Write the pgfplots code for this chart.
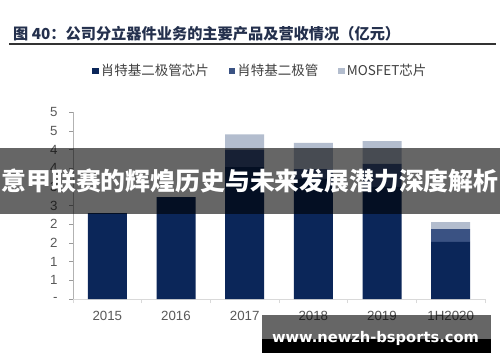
\documentclass[border=0pt]{standalone}
\usepackage{fontspec}
\setmainfont{Liberation Sans}
\newfontfamily\cjk{Noto Sans CJK SC}
\newfontfamily\dejab{DejaVu Sans}
\usepackage{graphicx}
\usepackage{pgfplots}
\pgfplotsset{compat=1.18}
\definecolor{sA}{HTML}{0B2659}
\definecolor{sB}{HTML}{3A5283}
\definecolor{sC}{HTML}{B3BDCE}
\definecolor{tick}{HTML}{595959}
\definecolor{ttl}{HTML}{24304D}
\begin{document}
\begin{tikzpicture}[x=1pt,y=1pt]
\fill[white] (0,0) rectangle (500,362);
\path[use as bounding box] (0,0) rectangle (500,362);
% title
\node[anchor=west, inner sep=0, text=ttl] at (13,328) {\resizebox{387pt}{!}{\cjk\bfseries 图 40：公司分立器件业务的主要产品及营收情况（亿元）}};
\draw[line width=1.2pt, color=black!80] (9,318) -- (496,318);
\begin{axis}[
  at={(73pt,63pt)}, anchor=south west,
  scale only axis, width=412pt, height=186.7pt,
  xmin=-0.5, xmax=5.5, ymin=0, ymax=5,
  ybar stacked, bar width=39pt,
  axis x line*=bottom, axis y line*=left,
  x axis line style={draw=black!15, line width=0.8pt},
  y axis line style={draw=black!30, line width=0.8pt},
  xtick={0,1,2,3,4,5},
  xticklabels={2015,2016,2017,2018,2019,1H2020},
  major x tick style={draw=none},
  minor xtick={-0.5,0.5,1.5,2.5,3.5,4.5,5.5},
  minor x tick style={draw=black!15, line width=0.6pt},
  minor tick length=4pt,
  ytick={0,0.5,1,1.5,2,2.5,3,3.5,4,4.5,5},
  yticklabels={-,1,1,2,2,3,3,4,4,5,5},
  y tick style={draw=black!40, line width=0.6pt},
  tick align=outside, major tick length=4pt,
  tick label style={font=\fontsize{13.3}{15}\selectfont, text=tick},
  yticklabel style={xshift=-8pt},
  xticklabel style={yshift=-5pt},
  /pgf/number format/assume math mode=true,
  legend columns=3,
  legend style={at={(0.455,1.221)}, anchor=center, draw=none, fill=none,
    font=\cjk\fontsize{13.5}{15}\selectfont, text=black!75,
    /tikz/every even column/.append style={column sep=18pt}},
  legend image code/.code={\fill[#1] (0pt,-3pt) rectangle (6.5pt,3.5pt);},
  clip=false,
]
\addplot[fill=sA, draw=none] coordinates {(0,2.30) (1,2.73) (2,3.53) (3,3.22) (4,3.00) (5,1.53)};
\addplot[fill=sB, draw=none] coordinates {(0,0) (1,0) (2,0.47) (3,0.26) (4,0.62) (5,0.34)};
\addplot[fill=sC, draw=none] coordinates {(0,0) (1,0) (2,0.41) (3,0.70) (4,0.61) (5,0.19)};
\legend{肖特基二极管芯片,肖特基二极管,MOSFET芯片}
\end{axis}
% banner overlay
\fill[black, opacity=0.6] (0,148) rectangle (500,214);
\node[inner sep=0, text=white] at (250,181) {\resizebox{497pt}{!}{\cjk\bfseries 意甲联赛的辉煌历史与未来发展潜力深度解析}};
% watermark
\fill[black, opacity=0.6] (262,23) rectangle (491,47);
\fill[black] (262,9) rectangle (491,23);
\node[inner sep=0, anchor=base, text=white] at (375.5,20) {\resizebox{207pt}{!}{\dejab\bfseries www.newzh-bsports.com}};
\end{tikzpicture}
\end{document}
